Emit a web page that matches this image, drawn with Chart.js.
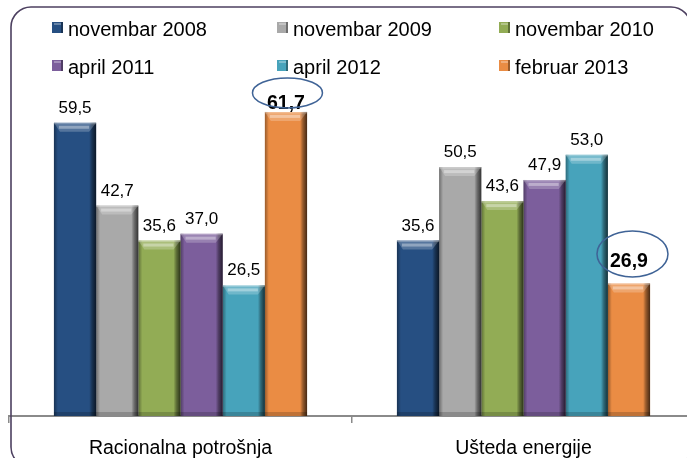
<!DOCTYPE html>
<html>
<head>
<meta charset="utf-8">
<script src="https://cdn.jsdelivr.net/npm/chart.js@4.4.1/dist/chart.umd.min.js"></script>
<style>
  html, body { margin: 0; padding: 0; background: #fff; overflow: hidden; width: 687px; height: 458px; }
  canvas { display: block; }
</style>
</head>
<body>
<canvas id="c" width="704" height="458"></canvas>
<script>
// ---- data ----
const categories = ['Racionalna potrošnja', 'Ušteda energije'];
const seriesLabels = ['novembar 2008', 'novembar 2009', 'novembar 2010', 'april 2011', 'april 2012', 'februar 2013'];
const nov2008 = [59.5, 35.6];
const nov2009 = [42.7, 50.5];
const nov2010 = [35.6, 43.6];
const apr2011 = [37.0, 47.9];
const apr2012 = [26.5, 53.0];
const feb2013 = [61.7, 26.9];
const seriesValues = [nov2008, nov2009, nov2010, apr2011, apr2012, feb2013];

// ---- styles ----
const faceColors = ['#264f82', '#a9a9a9', '#92ac55', '#7c5e9c', '#47a3bb', '#ea8c44'];
const FONT = '"Liberation Sans", Arial, sans-serif';

function fmt(v) { return v.toFixed(1).replace('.', ','); }

const bevelPlugin = {
  id: 'bevel',
  afterDatasetsDraw(chart) {
    const ctx = chart.ctx;
    chart.data.datasets.forEach((ds, di) => {
      const meta = chart.getDatasetMeta(di);
      meta.data.forEach(bar => {
        const { x, y, base, width } = bar.getProps(['x', 'y', 'base', 'width'], true);
        const l = x - width / 2, r = x + width / 2, t = y, b = base;
        ctx.save();
        // right dark edge
        let g = ctx.createLinearGradient(r - 7, 0, r, 0);
        g.addColorStop(0, 'rgba(0,0,0,0)');
        g.addColorStop(0.4, 'rgba(0,0,0,0.35)');
        g.addColorStop(1, 'rgba(0,0,0,0.7)');
        ctx.fillStyle = g;
        ctx.fillRect(r - 7, t, 7, b - t);
        // left subtle edge
        g = ctx.createLinearGradient(l, 0, l + 4, 0);
        g.addColorStop(0, 'rgba(0,0,0,0.35)');
        g.addColorStop(1, 'rgba(0,0,0,0)');
        ctx.fillStyle = g;
        ctx.fillRect(l, t, 4, b - t);
        // top bevel
        ctx.beginPath();
        ctx.moveTo(l, t);
        ctx.lineTo(r, t);
        ctx.lineTo(r - 7, t + 9);
        ctx.lineTo(l + 6, t + 9);
        ctx.closePath();
        ctx.fillStyle = 'rgba(255,255,255,0.22)';
        ctx.fill();
        ctx.fillStyle = 'rgba(255,255,255,0.35)';
        ctx.fillRect(l + 5, t + 3, width - 12, 3);
        // top edge line
        ctx.fillStyle = 'rgba(255,255,255,0.25)';
        ctx.fillRect(l, t, width, 1.5);
        // bottom bevel
        ctx.fillStyle = 'rgba(0,0,0,0.18)';
        ctx.fillRect(l, b - 4, width, 4);
        ctx.restore();
      });
    });
  }
};

const labelPlugin = {
  id: 'valueLabels',
  afterDatasetsDraw(chart, args, opts) {
    const ctx = chart.ctx;
    ctx.save();
    ctx.textAlign = 'center';
    ctx.textBaseline = 'alphabetic';
    ctx.fillStyle = '#000';
    chart.data.datasets.forEach((ds, di) => {
      const meta = chart.getDatasetMeta(di);
      meta.data.forEach((bar, i) => {
        const hl = opts.highlights.find(h => h.ds === di && h.i === i);
        const v = ds.data[i];
        if (hl) {
          ctx.font = 'bold 19.5px ' + FONT;
          ctx.fillText(fmt(v), bar.x, bar.y + hl.textDy);
          ctx.beginPath();
          ctx.ellipse(bar.x + hl.cx, bar.y + hl.cy, hl.rx, hl.ry, 0, 0, Math.PI * 2);
          ctx.strokeStyle = '#3f6396';
          ctx.lineWidth = 1.5;
          ctx.stroke();
        } else {
          ctx.font = '17px ' + FONT;
          ctx.fillText(fmt(v), bar.x, bar.y - 10);
        }
      });
    });
    ctx.restore();
  }
};

const legendPlugin = {
  id: 'gridLegend',
  afterDraw(chart, args, opts) {
    const ctx = chart.ctx;
    ctx.save();
    ctx.font = '20px ' + FONT;
    ctx.textBaseline = 'alphabetic';
    ctx.textAlign = 'left';
    chart.data.datasets.forEach((ds, di) => {
      const col = di % 3, row = Math.floor(di / 3);
      const mx = opts.colX[col], base = opts.rowY[row];
      const my = base - 14;
      ctx.fillStyle = ds.backgroundColor;
      ctx.fillRect(mx, my, 11, 11);
      ctx.fillStyle = 'rgba(0,0,0,0.35)';
      ctx.fillRect(mx + 9, my, 2, 11);
      ctx.fillStyle = 'rgba(255,255,255,0.3)';
      ctx.fillRect(mx + 2, my + 1, 7, 2);
      ctx.fillStyle = '#000';
      ctx.fillText(ds.label, mx + 16, base);
    });
    ctx.restore();
  }
};

const framePlugin = {
  id: 'frame',
  afterDraw(chart) {
    const ctx = chart.ctx;
    ctx.save();
    ctx.beginPath();
    ctx.roundRect(11, 7, 680, 460, 20);
    ctx.strokeStyle = '#4d4060';
    ctx.lineWidth = 1.6;
    ctx.stroke();
    ctx.restore();
  }
};

new Chart(document.getElementById('c'), {
  type: 'bar',
  data: {
    labels: categories,
    datasets: seriesValues.map((vals, k) => ({
      label: seriesLabels[k],
      data: vals,
      backgroundColor: faceColors[k],
      borderWidth: 0,
      categoryPercentage: 0.738,
      barPercentage: 1.0
    }))
  },
  options: {
    responsive: false,
    animation: false,
    layout: { padding: { left: 9, right: 9, top: 71, bottom: 0 } },
    plugins: {
      legend: { display: false },
      tooltip: { enabled: false },
      valueLabels: {
        highlights: [
          { ds: 5, i: 0, textDy: -3, cx: 1.5, cy: -19, rx: 35, ry: 15 },
          { ds: 5, i: 1, textDy: -16, cx: 3.5, cy: -29.5, rx: 35.5, ry: 23 }
        ]
      },
      gridLegend: { colX: [52, 277, 499], rowY: [36, 74] }
    },
    scales: {
      x: {
        grid: { display: true, drawOnChartArea: false, drawTicks: true, tickLength: 7, color: '#8a8a8a', lineWidth: 1.5, offset: true },
        border: { display: true, color: '#8a8a8a', width: 2 },
        ticks: { color: '#000', font: { family: FONT, size: 19.5 }, padding: 14 },
        afterFit(scale) { scale.height = 42; }
      },
      y: {
        display: false,
        min: 0,
        max: 70
      }
    }
  },
  plugins: [bevelPlugin, labelPlugin, legendPlugin, framePlugin]
});
</script>
</body>
</html>
